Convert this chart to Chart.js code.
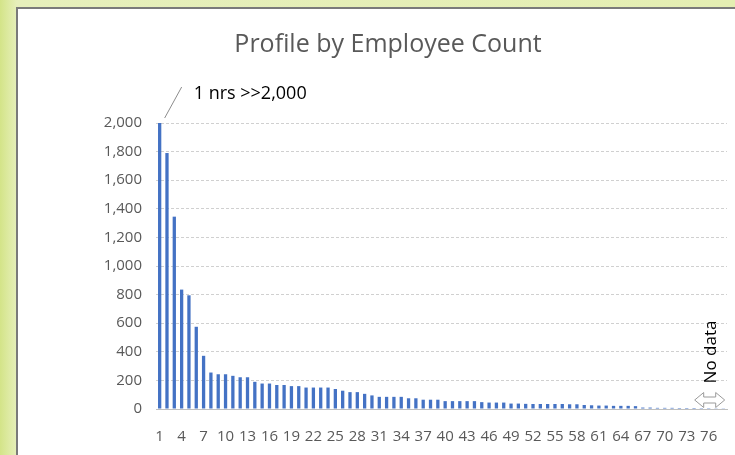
<!DOCTYPE html>
<html>
<head>
<meta charset="utf-8">
<script src="https://cdn.jsdelivr.net/npm/chart.js@4.4.0/dist/chart.umd.min.js"></script>
<style>
    html, body { margin: 0; padding: 0; }
    body {
        width: 735px; height: 455px; overflow: hidden; position: relative;
        background: linear-gradient(90deg, #d3e488 0px, #dfeba6 10px, #e6efbb 17px, #e4eeb2 100%);
    }
    #panel {
        position: absolute; left: 16px; top: 7px; width: 740px; height: 470px;
        background: #fff; border: 2px solid #7a7a7a; box-sizing: border-box;
    }
    #wrap { position: absolute; left: 0; top: 0; width: 735px; height: 455px; }
</style>
</head>
<body>
<div id="panel"></div>
<div id="wrap"><canvas id="grafica"></canvas></div>
<script>
// Numero de empleados (categorias)
const categorias = [];
for (let i = 1; i <= 78; i++) categorias.push(String(i));

// Cantidad de perfiles por categoria
const perfiles = [
    2000, 1790, 1345, 835, 795, 575, 372, 255, 243, 243,
    232, 222, 222, 190, 178, 178, 168, 168, 160, 160,
    150, 150, 150, 150, 140, 128, 118, 118, 106, 95,
    85, 85, 85, 85, 75, 75, 65, 65, 65, 55,
    55, 55, 55, 55, 48, 45, 45, 45, 38, 38,
    36, 35, 35, 35, 35, 35, 33, 33, 28, 26,
    24, 24, 22, 22, 22, 20, 10, 10, 8, 8,
    8, 7, 7, 7, 6, 6, 5, 5
];

// Etiquetas del eje y
const ticksY = [0, 200, 400, 600, 800, 1000, 1200, 1400, 1600, 1800, 2000];

const fuente = '"Open Sans", Lato, sans-serif';

//Anotaciones: "1 nrs >>2,000" y "No data"
const anotaciones = {
    id: 'anotaciones',
    afterDraw(chart) {
        const ctx = chart.ctx;
        const x = chart.scales.x;
        const y = chart.scales.y;
        ctx.save();

        // linea y texto sobre la primera barra
        const x1 = x.getPixelForValue(0);
        const yTop = y.getPixelForValue(perfiles[0]);
        ctx.strokeStyle = '#8c8c8c';
        ctx.lineWidth = 1;
        ctx.beginPath();
        ctx.moveTo(x1 + 5, yTop - 5);
        ctx.lineTo(x1 + 22, yTop - 36);
        ctx.stroke();
        ctx.fillStyle = '#000';
        ctx.font = '18px ' + fuente;
        ctx.textAlign = 'left';
        ctx.textBaseline = 'middle';
        ctx.fillText('1 nrs >>2,000', x1 + 34, yTop - 29);

        // flecha doble y texto vertical
        const xa = x.getPixelForValue(75) + 1;
        const ya = y.getPixelForValue(0) - 9;
        ctx.beginPath();
        ctx.moveTo(xa - 15, ya);
        ctx.lineTo(xa - 6, ya - 7.5);
        ctx.lineTo(xa - 6, ya - 3);
        ctx.lineTo(xa + 6, ya - 3);
        ctx.lineTo(xa + 6, ya - 7.5);
        ctx.lineTo(xa + 15, ya);
        ctx.lineTo(xa + 6, ya + 7.5);
        ctx.lineTo(xa + 6, ya + 3);
        ctx.lineTo(xa - 6, ya + 3);
        ctx.lineTo(xa - 6, ya + 7.5);
        ctx.closePath();
        ctx.fillStyle = '#fff';
        ctx.fill();
        ctx.strokeStyle = '#9a9a9a';
        ctx.stroke();

        ctx.translate(xa + 1, ya - 48);
        ctx.rotate(-Math.PI / 2);
        ctx.fillStyle = '#000';
        ctx.font = '17px ' + fuente;
        ctx.textAlign = 'center';
        ctx.textBaseline = 'middle';
        ctx.fillText('No data', 0, 0);
        ctx.restore();
    }
};

const grafica = document.getElementById('grafica').getContext('2d');
const chart = new Chart(grafica, {
    type: 'bar',
    data: {
        labels: categorias,
        datasets: [{
            label: 'Perfiles',
            data: perfiles,
            backgroundColor: '#4472c4',
            barPercentage: 0.45,
            categoryPercentage: 1
        }]
    },
    options: {
        responsive: true,
        maintainAspectRatio: false,
        animation: false,
        layout: { padding: { left: 49, right: 8, top: 0, bottom: 0 } },
        plugins: {
            legend: { display: false },
            tooltip: { enabled: false },
            title: {
                display: true,
                text: 'Profile by Employee Count',
                color: '#595959',
                font: { family: fuente, size: 25, weight: 'normal' },
                padding: { top: 30, bottom: 63 }
            }
        },
        scales: {
            x: {
                grid: { display: false, drawTicks: false },
                border: { display: true, color: '#bfbfbf', width: 1 },
                ticks: {
                    autoSkip: false,
                    maxRotation: 0,
                    padding: 19,
                    color: '#595959',
                    font: { family: fuente, size: 15 },
                    callback: (v, i) => (i % 3 === 0 ? categorias[i] : '')
                },
                afterFit: (s) => { s.height = 46; s.paddingRight = 0; s.paddingLeft = 0; }
            },
            y: {
                min: 0,
                max: 2000,
                afterBuildTicks: (s) => { s.ticks = ticksY.map(v => ({ value: v })); },
                grid: { color: '#d0d0d0', drawTicks: false },
                border: { display: false, dash: [3, 2] },
                ticks: {
                    padding: 14,
                    color: '#595959',
                    font: { family: fuente, size: 15 },
                    callback: (v) => v.toLocaleString('en-US')
                },
                afterFit: (s) => { s.width = 107; }
            }
        }
    },
    plugins: [anotaciones]
});
</script>
</body>
</html>
